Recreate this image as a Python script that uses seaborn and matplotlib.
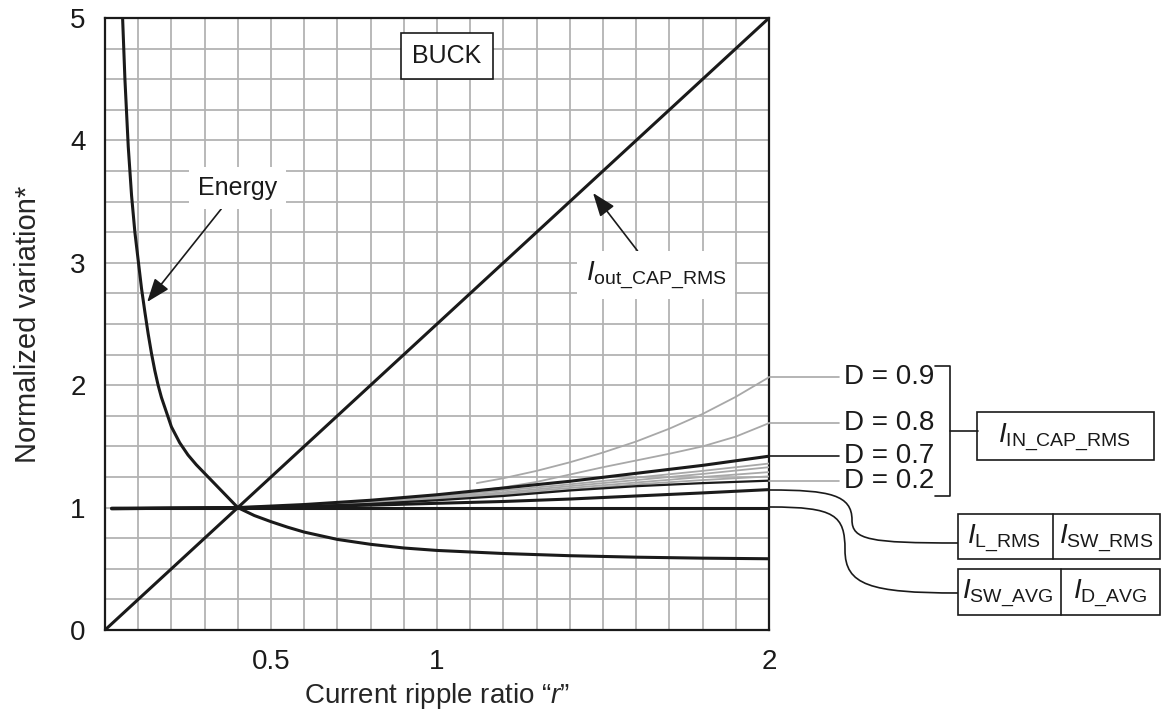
import numpy as np
import pandas as pd
import matplotlib
matplotlib.use("Agg")
import matplotlib.pyplot as plt
from matplotlib.patches import Rectangle, PathPatch
from matplotlib.path import Path
from matplotlib.lines import Line2D
from matplotlib.transforms import blended_transform_factory
import seaborn as sns

# ---------------- data ----------------
r_energy = [0.053, 0.06, 0.07, 0.08, 0.09, 0.10, 0.11, 0.12, 0.13, 0.14, 0.15, 0.16, 0.17,
            0.18, 0.19, 0.20, 0.225, 0.25, 0.275, 0.30, 0.325, 0.35, 0.375, 0.40, 0.45,
            0.50, 0.55, 0.60, 0.70, 0.80, 0.90, 1.00, 1.20, 1.40, 1.60, 1.80, 2.00]
energy = [5.0, 4.5, 3.95, 3.55, 3.25, 3.02, 2.79, 2.6, 2.42, 2.26, 2.12, 2.0, 1.9,
          1.82, 1.74, 1.66, 1.53, 1.43, 1.35, 1.28, 1.21, 1.14, 1.07, 1.0, 0.935,
          0.885, 0.84, 0.80, 0.74, 0.70, 0.67, 0.65, 0.625, 0.607, 0.595, 0.587, 0.582]

r_out = [0.0, 2.0]
i_out_cap_rms = [0.0, 5.0]

r_common = [0.02, 0.2, 0.4, 0.6, 0.8, 1.0, 1.2, 1.4, 1.6, 1.8, 2.0]
i_sw_avg = [1.0, 1.0, 1.0, 1.0, 1.0, 1.0, 1.0, 1.0, 1.0, 1.0, 1.0]
i_l_rms = [0.995, 0.997, 1.0, 1.008, 1.02, 1.035, 1.05, 1.07, 1.095, 1.12, 1.147]
d07 = [0.99, 0.995, 1.0, 1.025, 1.06, 1.105, 1.16, 1.215, 1.28, 1.345, 1.42]
d06 = [0.99, 0.995, 1.0, 1.02, 1.05, 1.09, 1.14, 1.19, 1.245, 1.30, 1.36]
d05 = [0.99, 0.995, 1.0, 1.018, 1.045, 1.08, 1.125, 1.175, 1.225, 1.275, 1.33]
d04 = [0.99, 0.995, 1.0, 1.015, 1.04, 1.075, 1.115, 1.16, 1.205, 1.25, 1.29]
d03 = [0.99, 0.995, 1.0, 1.012, 1.035, 1.068, 1.105, 1.145, 1.19, 1.225, 1.255]
d02 = [0.995, 0.998, 1.0, 1.01, 1.03, 1.06, 1.095, 1.14, 1.175, 1.20, 1.22]

r_d08 = [1.1, 1.2, 1.3, 1.4, 1.5, 1.6, 1.7, 1.8, 1.9, 2.0]
d08 = [1.13, 1.165, 1.21, 1.27, 1.33, 1.385, 1.44, 1.50, 1.58, 1.69]
r_d09 = [1.12, 1.2, 1.3, 1.4, 1.5, 1.6, 1.7, 1.8, 1.9, 2.0]
d09 = [1.20, 1.24, 1.30, 1.37, 1.45, 1.54, 1.645, 1.765, 1.905, 2.065]

x_ticks = [0.5, 1, 2]
x_tick_labels = ["0.5", "1", "2"]
y_ticks = [0, 1, 2, 3, 4, 5]

# ---------------- style ----------------
sns.set_style("white")
plt.rcParams["font.family"] = ["Liberation Sans", "DejaVu Sans"]
plt.rcParams["mathtext.fontset"] = "custom"
plt.rcParams["mathtext.rm"] = "Liberation Sans"
plt.rcParams["mathtext.it"] = "Liberation Sans:italic"
plt.rcParams["mathtext.bf"] = "Liberation Sans:bold"

W, H = 1161, 713
fig = plt.figure(figsize=(W / 100, H / 100), dpi=100)
ax = fig.add_axes([105 / W, 1 - 630 / H, (769 - 105) / W, (630 - 18) / H])

BLACK = "#1a1a1a"
GRAY = "#a8a8a8"

def draw(x, y, color, lw, z=3):
    sns.lineplot(x=x, y=y, ax=ax, color=color, linewidth=lw, sort=False,
                 estimator=None, zorder=z)

# gray curves
for yy in (d06, d05, d04, d03):
    draw(r_common, yy, GRAY, 1.3, 3)
draw(r_d08, d08, GRAY, 1.3, 3)
draw(r_d09, d09, GRAY, 1.3, 3)
# black curves
draw(r_common, d02, BLACK, 1.6, 4)
draw(r_common, d07, BLACK, 2.2, 4)
draw(r_common, i_l_rms, BLACK, 2.2, 4)
draw(r_common, i_sw_avg, BLACK, 2.2, 4)
draw(r_energy, energy, BLACK, 2.2, 4)
draw(r_out, i_out_cap_rms, BLACK, 2.2, 4)

ax.set_xlim(0, 2)
ax.set_ylim(0, 5)
ax.set_xticks(x_ticks)
ax.set_xticklabels(x_tick_labels)
ax.set_yticks(y_ticks)
ax.set_xticks(np.arange(0, 2.001, 0.1), minor=True)
ax.set_yticks(np.arange(0, 5.001, 0.25), minor=True)
ax.grid(which="both", color="#b3b3b3", linewidth=1.3, zorder=0)
ax.set_axisbelow(True)
ax.tick_params(which="both", length=0, labelsize=20, colors="#1a1a1a")
ax.tick_params(axis="x", pad=14)
ax.tick_params(axis="y", pad=14)
for s in ax.spines.values():
    s.set_visible(True)
    s.set_color("#1a1a1a")
    s.set_linewidth(1.6)
ax.set_xlabel("Current ripple ratio \u201c$\\mathit{r}$\u201d", fontsize=20, labelpad=4)
ax.set_ylabel("Normalized variation*", fontsize=21, labelpad=20)

# ---------------- in-plot annotations ----------------
arrowp = dict(arrowstyle="-|>,head_length=0.8,head_width=0.3", color=BLACK, lw=1.2,
              shrinkA=0, shrinkB=0, mutation_scale=18)
ax.annotate("Energy", xy=(0.127, 2.68), xytext=(0.40, 3.61), fontsize=18,
            ha="center", va="center", color=BLACK, zorder=6,
            bbox=dict(boxstyle="square,pad=0.35", fc="white", ec="none"),
            arrowprops=arrowp)
ax.annotate(r"$I_{\mathrm{out\_CAP\_RMS}}$", xy=(1.47, 3.57), xytext=(1.66, 2.90),
            fontsize=20, ha="center", va="center", color=BLACK, zorder=6,
            bbox=dict(boxstyle="square,pad=0.3", fc="white", ec="none"),
            arrowprops=arrowp)
ax.text(1.03, 4.69, "BUCK", fontsize=18, ha="center", va="center", color=BLACK, zorder=6,
        bbox=dict(boxstyle="square,pad=0.45", fc="white", ec=BLACK, lw=1.2))

# ---------------- right-side labels ----------------
blend = blended_transform_factory(ax.transAxes, ax.transData)
d_labels = ["D = 0.9", "D = 0.8", "D = 0.7", "D = 0.2"]
d_ends = [d09[-1], d08[-1], d07[-1], d02[-1]]
d_colors = [GRAY, GRAY, BLACK, GRAY]
for lab, yv, c in zip(d_labels, d_ends, d_colors):
    ax.text(1.113, yv, lab, transform=blend, fontsize=20, ha="left", va="center",
            color=BLACK, clip_on=False)
    ax.plot([1.0, 1.105], [yv, yv], transform=blend, color=c, lw=1.2,
            clip_on=False, zorder=5)

def fpx(x, y):
    return (x / W, 1 - y / H)

def fline(pts, color=BLACK, lw=1.2):
    xs = [p[0] / W for p in pts]
    ys = [1 - p[1] / H for p in pts]
    fig.add_artist(Line2D(xs, ys, color=color, lw=lw, transform=fig.transFigure))

def fbox(x0, y0, x1, y1, lw=1.2):
    fig.add_artist(Rectangle((x0 / W, 1 - y1 / H), (x1 - x0) / W, (y1 - y0) / H,
                             transform=fig.transFigure, fill=False, ec=BLACK, lw=lw))

def ftext(x, y, s, size=20):
    fig.text(x / W, 1 - y / H, s, fontsize=size, ha="center", va="center", color=BLACK)

def fcurve(pts, lw=1.2):
    verts = [fpx(*p) for p in pts]
    codes = [Path.MOVETO] + [Path.CURVE4] * (len(pts) - 1)
    fig.add_artist(PathPatch(Path(verts, codes), fill=False, ec=BLACK, lw=lw,
                             transform=fig.transFigure))

# bracket and I_IN_CAP_RMS box
fline([(935, 366), (950, 366), (950, 496), (935, 496)])
fline([(950, 431), (978, 431)])
fbox(977, 412, 1154, 460)
ftext(1065, 437, r"$I_{\mathrm{IN\_CAP\_RMS}}$")

# I_L_RMS / I_SW_RMS
fbox(958, 514, 1160, 559)
fline([(1053, 514), (1053, 559)])
ftext(1004, 538, r"$I_{\mathrm{L\_RMS}}$")
ftext(1106, 538, r"$I_{\mathrm{SW\_RMS}}$")
fcurve([(770, 490), (830, 490), (852, 495), (852, 520),
        (852, 540), (870, 543), (958, 543)])

# I_SW_AVG / I_D_AVG
fbox(958, 569, 1160, 615)
fline([(1061, 569), (1061, 615)])
ftext(1008, 593, r"$I_{\mathrm{SW\_AVG}}$")
ftext(1110, 593, r"$I_{\mathrm{D\_AVG}}$")
fcurve([(770, 507), (835, 507), (845, 515), (845, 550),
        (845, 585), (870, 593), (958, 593)])

fig.savefig("out.png", dpi=100)
